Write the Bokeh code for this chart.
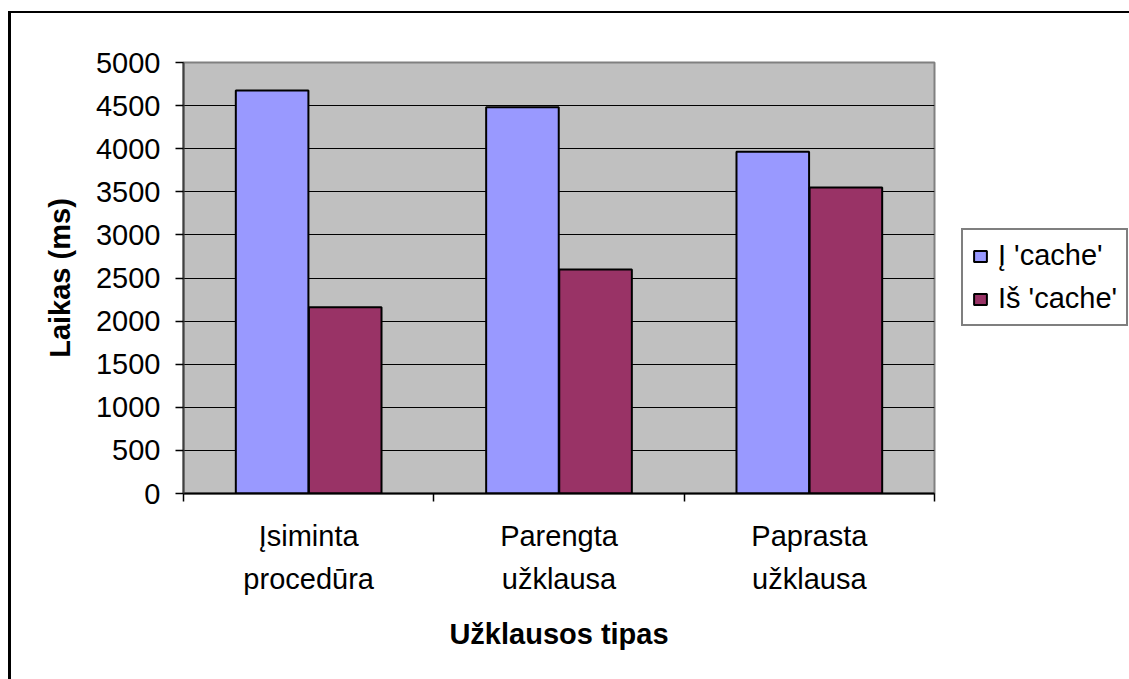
import numpy as np
from bokeh.plotting import figure
from bokeh.layouts import row
from bokeh.models import (Range1d, FixedTicker, SingleIntervalTicker, Legend, LegendItem,
                          ColumnDataSource)
from bokeh.embed import file_html
from bokeh.resources import INLINE

categories = ["Įsiminta\nprocedūra", "Parengta\nužklausa", "Paprasta\nužklausa"]
series_names = ["Į 'cache'", "Iš 'cache'"]
to_cache = [4675, 4480, 3965]
from_cache = [2160, 2600, 3550]
colors = ["#9999FF", "#993366"]
y_ticks_interval = 500

FONT = "Liberation Sans"

p = figure(width=925, height=666, output_backend="svg", toolbar_location=None,
           x_range=Range1d(0, len(categories)), y_range=Range1d(0, 5000),
           min_border_left=172, min_border_right=2, min_border_top=49, min_border_bottom=186,
           background_fill_color="#C0C0C0", border_fill_color="white")

idx = np.arange(len(categories)) + 0.5
off = 0.146
w = 0.29
src = ColumnDataSource(dict(xa=idx - off, xb=idx + off, a=to_cache, b=from_cache))
r1 = p.vbar(x="xa", top="a", width=w, source=src, fill_color=colors[0],
            line_color="black", line_width=2)
r2 = p.vbar(x="xb", top="b", width=w, source=src, fill_color=colors[1],
            line_color="black", line_width=2)

p.outline_line_color = "#808080"
p.outline_line_width = 2
p.xgrid.visible = False
p.ygrid.grid_line_color = "black"
p.ygrid.grid_line_width = 1

# x axis
xa = p.xaxis[0]
xa.ticker = FixedTicker(ticks=list(idx), minor_ticks=list(range(len(categories) + 1)))
xa.major_label_overrides = {float(v): c for v, c in zip(idx, categories)}
xa.major_tick_out = 0
xa.major_tick_in = 0
xa.minor_tick_out = 8
xa.minor_tick_in = 0
xa.minor_tick_line_color = "black"
xa.minor_tick_line_width = 1.5
xa.axis_line_color = "black"
xa.axis_line_width = 2
xa.major_label_text_font = FONT
xa.major_label_text_font_size = "29px"
xa.major_label_text_color = "black"
xa.major_label_text_line_height = 1.35
xa.major_label_standoff = 18
xa.major_label_orientation = "horizontal"
xa.axis_label = "Užklausos tipas"
xa.axis_label_text_font = FONT
xa.axis_label_text_font_style = "bold"
xa.axis_label_text_font_size = "29px"
xa.axis_label_text_color = "black"
xa.axis_label_standoff = 20

ya = p.yaxis[0]
ya.ticker = SingleIntervalTicker(interval=y_ticks_interval, num_minor_ticks=0)
ya.major_tick_out = 8
ya.major_tick_in = 0
ya.major_tick_line_color = "black"
ya.major_tick_line_width = 1.5
ya.minor_tick_out = 0
ya.axis_line_color = "#404040"
ya.axis_line_width = 2
ya.major_label_text_font = FONT
ya.major_label_text_font_size = "29px"
ya.major_label_text_color = "black"
ya.major_label_standoff = 15
ya.axis_label = "Laikas (ms)"
ya.axis_label_text_font = FONT
ya.axis_label_text_font_style = "bold"
ya.axis_label_text_font_size = "29px"
ya.axis_label_text_color = "black"
ya.axis_label_standoff = 17

# legend panel as a separate frameless figure
q = figure(width=193, height=666, output_backend="svg", toolbar_location=None,
           x_axis_location=None, y_axis_location=None,
           min_border_left=0, min_border_right=0, min_border_top=0, min_border_bottom=0,
           background_fill_color="white", border_fill_color="white")
q.outline_line_color = None
q.grid.visible = False
l1 = q.vbar(x="xa", top="a", width=w, source=src, fill_color=colors[0],
            line_color="black", line_width=2, visible=False)
l2 = q.vbar(x="xb", top="b", width=w, source=src, fill_color=colors[1],
            line_color="black", line_width=2, visible=False)

legend = Legend(items=[LegendItem(label=series_names[0], renderers=[l1]),
                       LegendItem(label=series_names[1], renderers=[l2])],
                location=(25, 167))
legend.label_text_font = FONT
legend.label_text_font_size = "29px"
legend.label_text_color = "black"
legend.glyph_width = 16
legend.glyph_height = 14
legend.label_standoff = 10
legend.padding = 9
legend.spacing = 10
legend.margin = 0
legend.inactive_fill_alpha = 0
legend.border_line_color = "black"
legend.border_line_width = 2
legend.background_fill_color = "white"
legend.background_fill_alpha = 1
q.add_layout(legend, "center")

layout = row(p, q, spacing=0,
             styles={"margin-left": "8px", "margin-top": "11px",
                     "border-left": "3px solid black", "border-top": "2px solid black"})

open("out.html", "w").write(file_html(layout, INLINE))
